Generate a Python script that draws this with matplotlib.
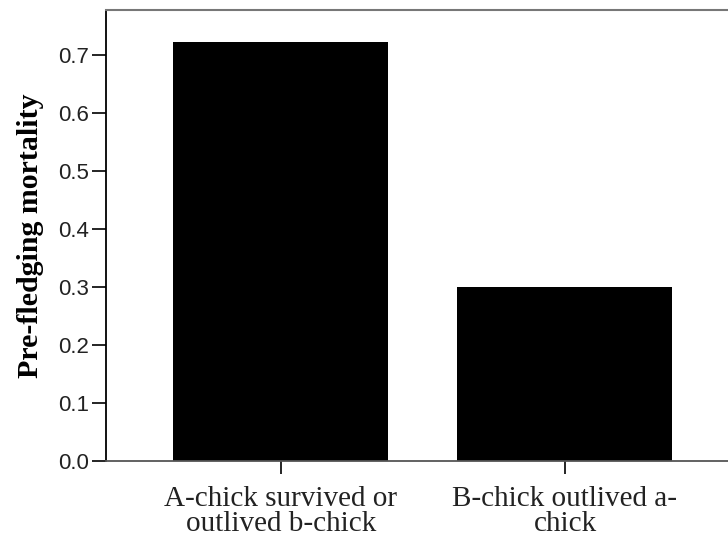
import matplotlib.pyplot as plt

# data
categories = ['A-chick survived or\noutlived b-chick', 'B-chick outlived a-\nchick']
mortality = [0.722, 0.301]
yticks = [0.0, 0.1, 0.2, 0.3, 0.4, 0.5, 0.6, 0.7]

fig = plt.figure(figsize=(7.28, 5.42), dpi=100)
ax = fig.add_axes([0.1456, 0.1494, 0.8544, 0.8321])

ax.bar(range(len(categories)), mortality, width=0.757, color='black')

ax.set_xlim(-0.616, 1.574)
ax.set_ylim(0, 0.778)

ax.set_yticks(yticks)
ax.set_yticklabels(['%.1f' % t for t in yticks],
                   family='Liberation Sans', fontsize=16, color='#222222')
ax.set_xticks(range(len(categories)))
ax.set_xticklabels(categories, family='Liberation Serif', fontsize=21,
                   linespacing=0.95, color='#222222')

ax.tick_params(axis='y', length=10, width=1.2, pad=2)
ax.tick_params(axis='x', length=9, width=1.2, pad=9)

ax.set_ylabel('Pre-fledging mortality', family='Liberation Serif',
              fontweight='bold', fontsize=21.5, labelpad=10)

ax.spines['right'].set_visible(False)
ax.spines['left'].set_linewidth(1.3)
ax.spines['top'].set_color('#777777')
ax.spines['top'].set_linewidth(1.5)
ax.spines['bottom'].set_color('#555555')
ax.spines['bottom'].set_linewidth(1.3)

fig.savefig('out.png', dpi=100)
